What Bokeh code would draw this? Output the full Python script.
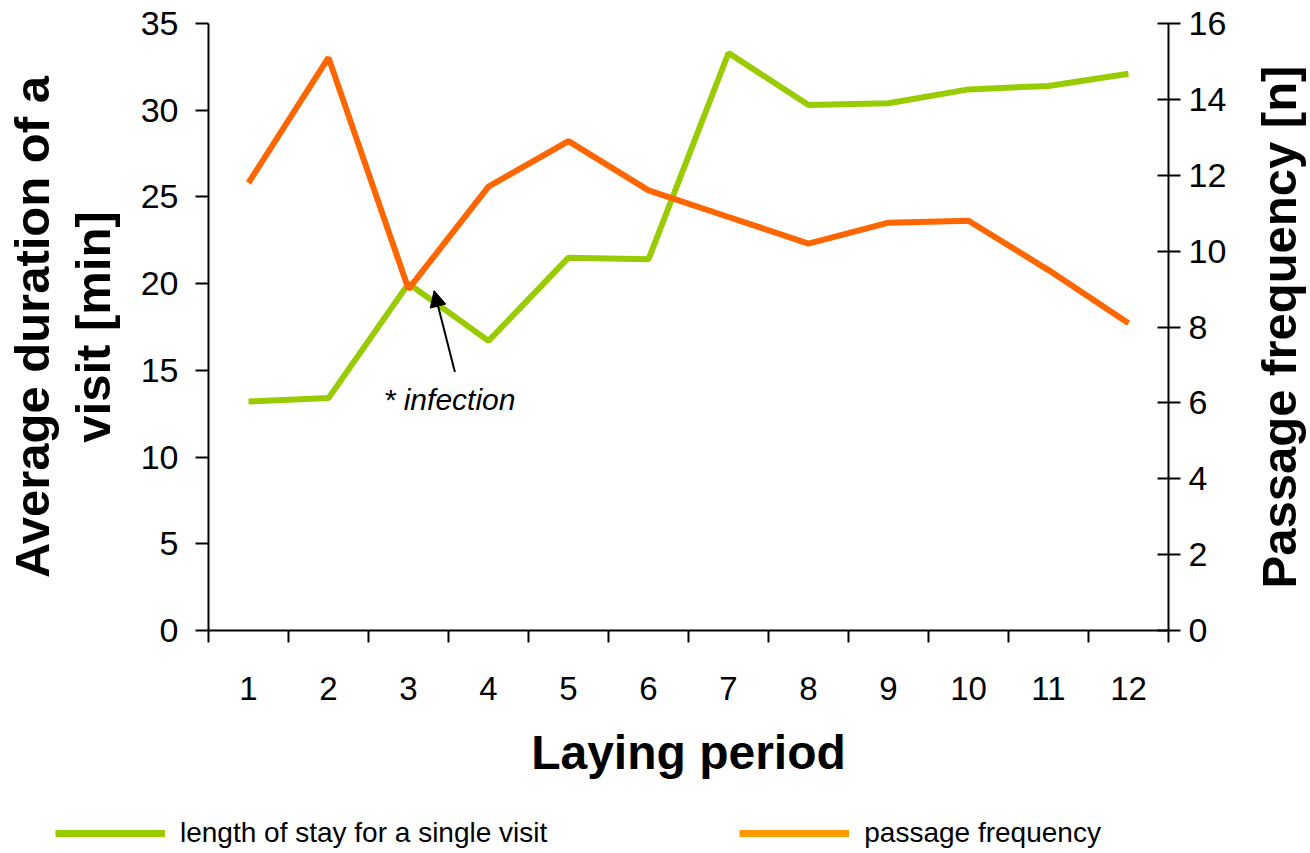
import math
from bokeh.plotting import figure
from bokeh.layouts import row, column
from bokeh.models import (LinearAxis, Range1d, FixedTicker, Legend, LegendItem,
                          Arrow, NormalHead, Label, ColumnDataSource)
from bokeh.embed import file_html
from bokeh.resources import INLINE

# ---- data ----
periods = [1, 2, 3, 4, 5, 6, 7, 8, 9, 10, 11, 12]
stay_minutes = [13.2, 13.4, 20.0, 16.7, 21.5, 21.4, 33.3, 30.3, 30.4, 31.2, 31.4, 32.1]
passage_freq = [11.8, 15.1, 9.0, 11.7, 12.9, 11.6, 10.9, 10.2, 10.75, 10.8, 9.5, 8.1]

left_ticks = [0, 5, 10, 15, 20, 25, 30, 35]
right_ticks = [0, 2, 4, 6, 8, 10, 12, 14, 16]

# annotation (arrow pointing at the infection period)
arrow_start = (3.58, 14.9)
arrow_end = (3.32, 19.6)
note_pos = (2.69, 13.3)
note_text = "* infection"
right_title = "Passage frequency [n]"
legend_labels = ["length of stay for a single visit", "passage frequency"]

FONT = "Liberation Sans"
GREEN = "#99CC00"
ORANGE = "#FF6600"
ORANGE_LEG = "#FF9900"

# ---- layout sizes ----
W, H = 1310, 853
W_MAIN, H_MAIN = 1240, 805
W_TITLE = W - W_MAIN
H_LEG = H - H_MAIN

src = ColumnDataSource(dict(x=periods, stay=stay_minutes, freq=passage_freq))

p = figure(width=W_MAIN, height=H_MAIN, output_backend="svg", toolbar_location=None,
           x_range=Range1d(0.5, 12.5), y_range=Range1d(0, 35),
           min_border_left=208, min_border_right=W_MAIN - 1168, min_border_top=23,
           min_border_bottom=H_MAIN - 630, outline_line_color=None)
p.xgrid.visible = False
p.ygrid.visible = False

p.extra_y_ranges = {"freq": Range1d(0, 16)}

# lines
p.line("x", "stay", source=src, line_color=GREEN, line_width=6)
p.line("x", "freq", source=src, line_color=ORANGE, line_width=6, y_range_name="freq")

# x axis
xa = p.xaxis[0]
xa.ticker = FixedTicker(ticks=periods, minor_ticks=[k - 0.5 for k in periods + [13]])
xa.major_tick_line_color = None
xa.major_tick_out = 12
xa.major_tick_in = 0
xa.minor_tick_out = 12
xa.minor_tick_in = 0
xa.minor_tick_line_color = "black"
xa.minor_tick_line_width = 2
xa.axis_line_width = 2
xa.axis_line_color = "black"
xa.major_label_text_font = FONT
xa.major_label_text_font_size = "33px"
xa.major_label_text_color = "black"
xa.major_label_standoff = 34
xa.axis_label = "Laying period"
xa.axis_label_text_font = FONT
xa.axis_label_text_font_style = "bold"
xa.axis_label_text_font_size = "48px"
xa.axis_label_text_color = "black"
xa.axis_label_standoff = 23

# left axis
ya = p.yaxis[0]
ya.ticker = FixedTicker(ticks=left_ticks)
ya.minor_tick_line_color = None
ya.major_tick_out = 13
ya.major_tick_in = 0
ya.major_tick_line_width = 2
ya.axis_line_width = 2
ya.axis_line_color = "black"
ya.major_label_text_font = FONT
ya.major_label_text_font_size = "34px"
ya.major_label_text_color = "black"
ya.major_label_standoff = 17
ya.axis_label = "Average duration of a\nvisit [min]"
ya.axis_label_text_font = FONT
ya.axis_label_text_font_style = "bold"
ya.axis_label_text_font_size = "49px"
ya.axis_label_text_color = "black"
ya.axis_label_text_line_height = 1.12
ya.axis_label_standoff = 18

# right axis
ra = LinearAxis(y_range_name="freq", ticker=FixedTicker(ticks=right_ticks))
ra.minor_tick_line_color = None
ra.major_tick_out = 12
ra.major_tick_in = 11
ra.major_tick_line_width = 2
ra.axis_line_width = 2
ra.axis_line_color = "black"
ra.major_label_text_font = FONT
ra.major_label_text_font_size = "34px"
ra.major_label_text_color = "black"
ra.major_label_standoff = 8
p.add_layout(ra, "right")

# annotation
p.add_layout(Arrow(x_start=arrow_start[0], y_start=arrow_start[1],
                   x_end=arrow_end[0], y_end=arrow_end[1],
                   line_color="black", line_width=2,
                   end=NormalHead(size=16, fill_color="black", line_color="black")))
p.add_layout(Label(x=note_pos[0], y=note_pos[1], text=note_text,
                   text_font=FONT, text_font_style="italic", text_font_size="30px",
                   text_baseline="middle", text_align="left", text_color="black"))

# ---- right title panel (reads bottom-to-top); shares the left y range ----
t = figure(width=W_TITLE, height=H_MAIN, output_backend="svg", toolbar_location=None,
           x_range=Range1d(0, W_TITLE), y_range=p.y_range,
           x_axis_location=None, y_axis_location=None, min_border=0,
           outline_line_color=None)
t.grid.visible = False
t.add_layout(Label(x=38, y=(p.y_range.start + p.y_range.end) / 2, text=right_title,
                   angle=math.pi / 2, text_font=FONT, text_font_style="bold",
                   text_font_size="49px", text_align="center", text_baseline="middle",
                   text_color="black"))

# ---- legend panel ----
lf = figure(width=W, height=H_LEG, output_backend="svg", toolbar_location=None,
            x_range=Range1d(-1, 0), y_range=Range1d(-1, 0),
            x_axis_location=None, y_axis_location=None, min_border=0,
            outline_line_color=None)
lf.grid.visible = False
# proxies carry the series data (outside this panel's ranges), only their legend swatch shows
g_proxy = lf.line(periods, stay_minutes, line_color=GREEN, line_width=7)
o_proxy = lf.line(periods, passage_freq, line_color=ORANGE_LEG, line_width=7)
legend = Legend(items=[LegendItem(label=legend_labels[0], renderers=[g_proxy]),
                       LegendItem(label=legend_labels[1], renderers=[o_proxy])],
                orientation="horizontal", location=(55, 4),
                glyph_width=110, glyph_height=32, label_height=32,
                label_standoff=15, spacing=192, padding=0, margin=0,
                border_line_color=None, background_fill_alpha=0,
                label_text_font=FONT, label_text_font_size="28px",
                label_text_color="black")
lf.add_layout(legend)

layout = column(row(p, t), lf)
open("out.html", "w").write(file_html(layout, INLINE))
